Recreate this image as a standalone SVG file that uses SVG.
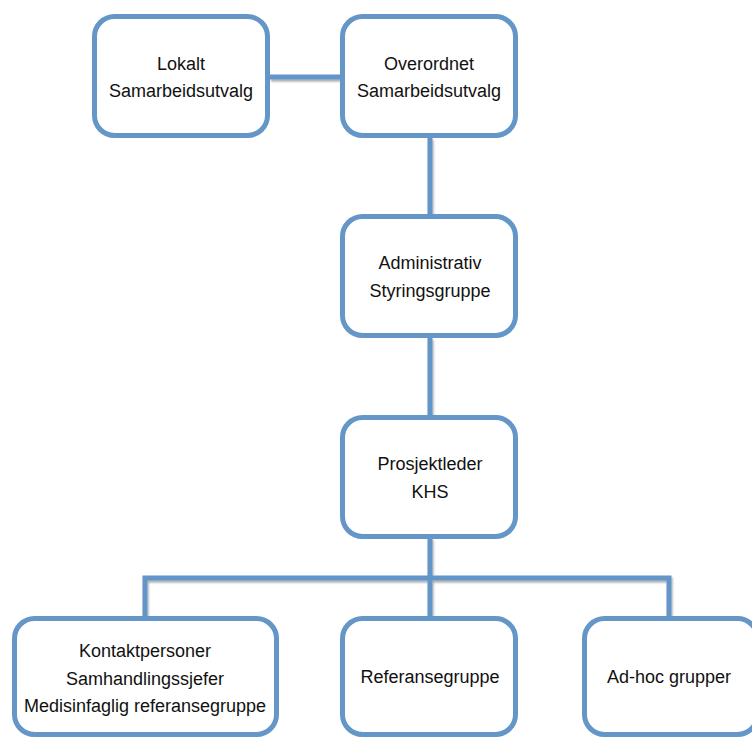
<svg xmlns="http://www.w3.org/2000/svg" width="752" height="737" viewBox="0 0 752 737">
<defs>
<filter id="sh" x="-20%" y="-20%" width="140%" height="140%">
<feDropShadow dx="1" dy="2" stdDeviation="1.2" flood-color="#000" flood-opacity="0.35"/>
</filter>
<style>
.box{fill:#fff;stroke:#6496C8;stroke-width:5}
.ln{fill:none;stroke:#6496C8;stroke-width:5;stroke-linejoin:miter}
text{font-family:"Liberation Sans",Arial,sans-serif;font-size:18px;fill:#111;text-anchor:middle}
</style>
</defs>
<rect width="752" height="737" fill="#fff"/>
<g id="connectors" filter="url(#sh)">
<line class="ln" x1="270" y1="77" x2="340" y2="77"/>
<line class="ln" x1="430" y1="138" x2="430" y2="214"/>
<line class="ln" x1="430" y1="338" x2="430" y2="415"/>
<line class="ln" x1="430" y1="538" x2="430" y2="616"/>
<polyline class="ln" points="145,616 145,578 669,578 669,616"/>
</g>
<g id="lokalt">
<rect class="box" x="94.5" y="16.5" width="173" height="119" rx="20"/>
<text x="181" y="70">Lokalt</text>
<text x="181" y="97">Samarbeidsutvalg</text>
</g>
<g id="overordnet">
<rect class="box" x="342.5" y="16.5" width="173" height="119" rx="20"/>
<text x="429" y="70">Overordnet</text>
<text x="429" y="97">Samarbeidsutvalg</text>
</g>
<g id="administrativ">
<rect class="box" x="342.5" y="216.5" width="173" height="119" rx="20"/>
<text x="430" y="269">Administrativ</text>
<text x="430" y="297">Styringsgruppe</text>
</g>
<g id="prosjektleder">
<rect class="box" x="342.5" y="417.5" width="173" height="119" rx="20"/>
<text x="430" y="470">Prosjektleder</text>
<text x="430" y="498">KHS</text>
</g>
<g id="kontaktpersoner">
<rect class="box" x="14.5" y="618.5" width="262" height="116" rx="20"/>
<text x="145" y="657">Kontaktpersoner</text>
<text x="145" y="685">Samhandlingssjefer</text>
<text x="145" y="712">Medisinfaglig referansegruppe</text>
</g>
<g id="referansegruppe">
<rect class="box" x="342.5" y="618.5" width="173" height="116" rx="20"/>
<text x="430" y="683">Referansegruppe</text>
</g>
<g id="adhoc">
<rect class="box" x="584.5" y="618.5" width="173" height="116" rx="20"/>
<text x="669" y="683">Ad-hoc grupper</text>
</g>
</svg>
